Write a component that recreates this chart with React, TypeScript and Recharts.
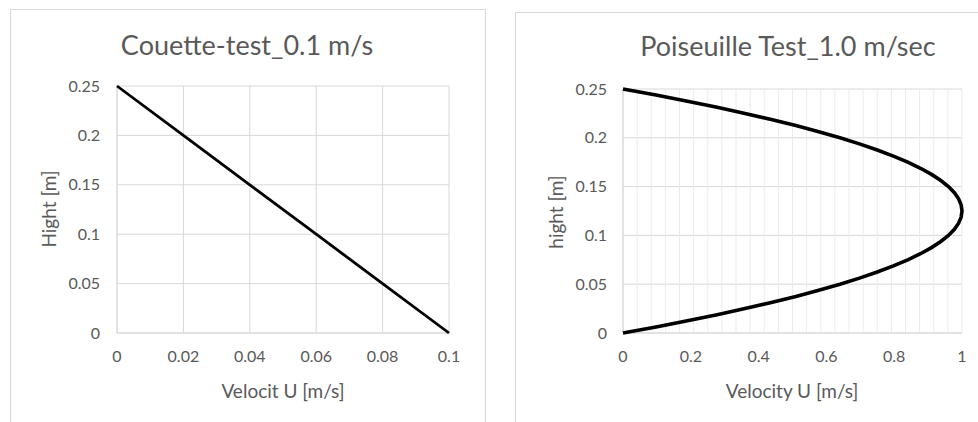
import React from 'react';
import { ScatterChart, Scatter, XAxis, YAxis, CartesianGrid } from 'recharts';

// Couette test: linear profile
const couetteU = [0, 0.02, 0.04, 0.06, 0.08, 0.1];
const couetteH = [0.25, 0.2, 0.15, 0.1, 0.05, 0];

// Poiseuille test: parabolic profile
const poiseuilleH = [
  0, 0.00625, 0.0125, 0.01875, 0.025, 0.03125, 0.0375, 0.04375, 0.05, 0.05625, 0.0625,
  0.06875, 0.075, 0.08125, 0.0875, 0.09375, 0.1, 0.10625, 0.1125, 0.11875, 0.125,
  0.13125, 0.1375, 0.14375, 0.15, 0.15625, 0.1625, 0.16875, 0.175, 0.18125, 0.1875,
  0.19375, 0.2, 0.20625, 0.2125, 0.21875, 0.225, 0.23125, 0.2375, 0.24375, 0.25,
];
const poiseuilleU = [
  0, 0.0975, 0.19, 0.2775, 0.36, 0.4375, 0.51, 0.5775, 0.64, 0.6975, 0.75,
  0.7975, 0.84, 0.8775, 0.91, 0.9375, 0.96, 0.9775, 0.99, 0.9975, 1,
  0.9975, 0.99, 0.9775, 0.96, 0.9375, 0.91, 0.8775, 0.84, 0.7975, 0.75,
  0.6975, 0.64, 0.5775, 0.51, 0.4375, 0.36, 0.2775, 0.19, 0.0975, 0,
];

const heightTicks = [0, 0.05, 0.1, 0.15, 0.2, 0.25];
const couetteTicks = [0, 0.02, 0.04, 0.06, 0.08, 0.1];
const poiseuilleTicks = [0, 0.2, 0.4, 0.6, 0.8, 1];

const couetteData = couetteU.map((u, i) => ({ u, h: couetteH[i] }));
const poiseuilleData = poiseuilleU.map((u, i) => ({ u, h: poiseuilleH[i] }));

// faint vertical lines in the second chart
const minorX = Array.from({ length: 25 }, (_, i) => i / 24);

const FONT = 'Lato, "Open Sans", sans-serif';
const TEXT = '#595959';
const GRID = '#d9d9d9';
const tickStyle = { fontSize: 16, fill: TEXT, fontFamily: FONT };

const noDot = () => <g />;

const Card: React.FC<{ left: number; top: number; width: number; height: number }> = ({ left, top, width, height }) => (
  <div
    style={{
      position: 'absolute',
      left,
      top,
      width,
      height,
      border: '1px solid #d9d9d9',
      boxSizing: 'border-box',
      background: 'white',
    }}
  />
);

const Text: React.FC<{ x: number; y: number; size: number; rotate?: boolean; children: React.ReactNode }> = ({
  x,
  y,
  size,
  rotate,
  children,
}) => (
  <div
    style={{
      position: 'absolute',
      left: x,
      top: y,
      transform: `translate(-50%, -50%)${rotate ? ' rotate(-90deg)' : ''}`,
      fontFamily: FONT,
      fontSize: size,
      color: TEXT,
      whiteSpace: 'nowrap',
      lineHeight: 1,
    }}
  >
    {children}
  </div>
);

export default function App() {
  return (
    <div style={{ position: 'absolute', left: 0, top: 0, width: 978, height: 422, background: 'white', overflow: 'hidden' }}>
      <Card left={10} top={9} width={476} height={420} />
      <Card left={515} top={12} width={470} height={420} />

      <div style={{ position: 'absolute', left: 0, top: 0 }}>
        <ScatterChart width={490} height={422} margin={{ top: 86, right: 41, bottom: 0, left: 0 }}>
          <CartesianGrid stroke={GRID} strokeWidth={1} />
          <XAxis
            type="number"
            dataKey="u"
            domain={[0, 0.1]}
            ticks={couetteTicks}
            tick={tickStyle}
            tickLine={false}
            tickSize={0}
            tickMargin={18}
            axisLine={{ stroke: GRID }}
            height={89}
            interval={0}
          />
          <YAxis
            type="number"
            dataKey="h"
            domain={[0, 0.25]}
            ticks={heightTicks}
            tick={tickStyle}
            tickLine={false}
            tickSize={0}
            tickMargin={17}
            axisLine={{ stroke: GRID }}
            width={117}
            interval={0}
          />
          <Scatter
            data={couetteData}
            line={{ stroke: '#000000', strokeWidth: 2.8 }}
            shape={noDot}
            isAnimationActive={false}
          />
        </ScatterChart>
      </div>

      <div style={{ position: 'absolute', left: 490, top: 0 }}>
        <ScatterChart width={488} height={422} margin={{ top: 89, right: 16, bottom: 0, left: 0 }}>
          <CartesianGrid vertical={false} stroke={GRID} strokeWidth={1} />
          <CartesianGrid horizontal={false} verticalValues={minorX} stroke="#ebebeb" strokeWidth={1} />
          <XAxis
            type="number"
            dataKey="u"
            domain={[0, 1]}
            ticks={poiseuilleTicks}
            tick={tickStyle}
            tickLine={false}
            tickSize={0}
            tickMargin={18}
            axisLine={{ stroke: GRID }}
            height={89}
            interval={0}
          />
          <YAxis
            type="number"
            dataKey="h"
            domain={[0, 0.25]}
            ticks={heightTicks}
            tick={tickStyle}
            tickLine={false}
            tickSize={0}
            tickMargin={16}
            axisLine={{ stroke: '#cfcfcf' }}
            width={133}
            interval={0}
          />
          <Scatter
            data={poiseuilleData}
            line={{ stroke: '#000000', strokeWidth: 3.6 }}
            shape={noDot}
            isAnimationActive={false}
          />
        </ScatterChart>
      </div>

      <Text x={247} y={44} size={27}>Couette-test_0.1 m/s</Text>
      <Text x={283} y={390} size={19}>Velocit U [m/s]</Text>
      <Text x={48} y={209} size={19} rotate>Hight [m]</Text>

      <Text x={788} y={45} size={27}>Poiseuille Test_1.0 m/sec</Text>
      <Text x={792} y={390} size={19}>Velocity U [m/s]</Text>
      <Text x={555} y={212} size={19} rotate>hight [m]</Text>
    </div>
  );
}
